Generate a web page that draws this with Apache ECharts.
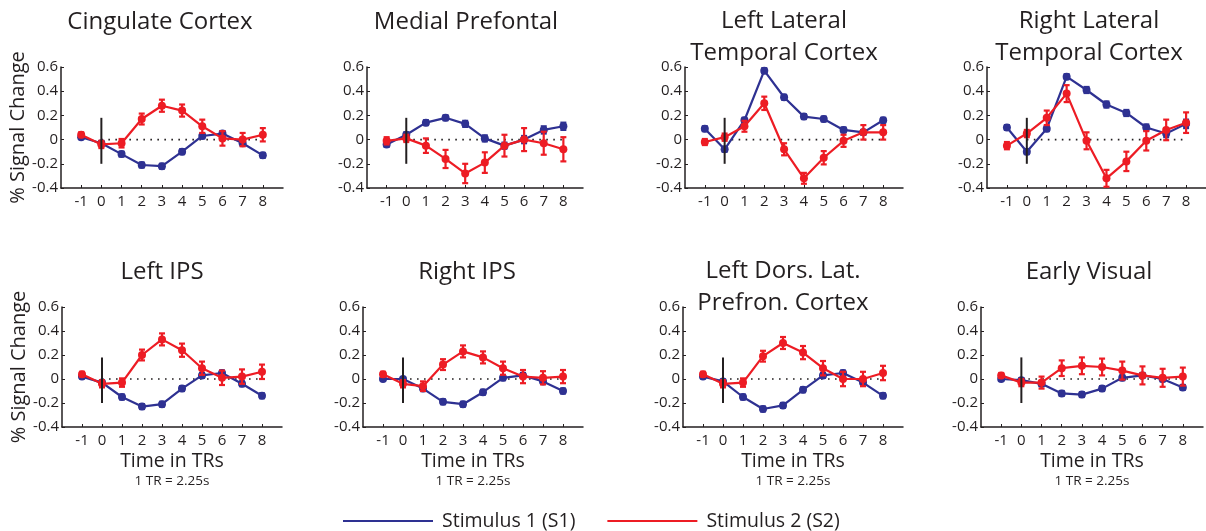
<!DOCTYPE html>
<html><head><meta charset="utf-8">
<script src="https://cdn.jsdelivr.net/npm/echarts@6/dist/echarts.min.js"></script>
<style>html,body{margin:0;padding:0;background:#fff}#c{width:1206px;height:531px}</style>
</head><body><div id="c"></div>
<script>
// ---------- data ----------
const timeTRs = [-1, 0, 1, 2, 3, 4, 5, 6, 7, 8];
const seriesNames = ['Stimulus 1 (S1)', 'Stimulus 2 (S2)'];
const panelTitles = [
  ['Cingulate Cortex'], ['Medial Prefontal'], ['Left Lateral', 'Temporal Cortex'], ['Right Lateral', 'Temporal Cortex'],
  ['Left IPS'], ['Right IPS'], ['Left Dors. Lat.', 'Prefron. Cortex'], ['Early Visual']
];
const yAxisTitle = '% Signal Change';
const xAxisTitle = 'Time in TRs';
const xAxisNote = '1 TR = 2.25s';
const stimOnsetX = 0;
const stimLineRange = [-0.2, 0.18];
const baselineRange = [0, 8];

const cingS1 = [0.02, -0.03, -0.12, -0.21, -0.22, -0.10, 0.03, 0.05, -0.03, -0.13];
const cingE1 = [0.015, 0.015, 0.02, 0.02, 0.02, 0.02, 0.02, 0.02, 0.02, 0.02];
const cingS2 = [0.04, -0.04, -0.03, 0.17, 0.28, 0.24, 0.11, 0.01, 0.00, 0.04];
const cingE2 = [0.02, 0.03, 0.035, 0.045, 0.05, 0.05, 0.055, 0.06, 0.055, 0.055];

const mpfcS1 = [-0.04, 0.04, 0.14, 0.18, 0.13, 0.01, -0.05, 0.00, 0.08, 0.11];
const mpfcE1 = [0.02, 0.02, 0.02, 0.02, 0.025, 0.025, 0.025, 0.03, 0.03, 0.03];
const mpfcS2 = [-0.01, 0.01, -0.05, -0.16, -0.28, -0.19, -0.05, 0.00, -0.03, -0.08];
const mpfcE2 = [0.03, 0.03, 0.06, 0.075, 0.08, 0.085, 0.09, 0.095, 0.095, 0.10];

const lltcS1 = [0.09, -0.08, 0.16, 0.57, 0.35, 0.19, 0.17, 0.08, 0.06, 0.16];
const lltcE1 = [0.02, 0.02, 0.02, 0.02, 0.02, 0.02, 0.02, 0.02, 0.02, 0.02];
const lltcS2 = [-0.02, 0.02, 0.11, 0.30, -0.08, -0.32, -0.15, -0.01, 0.06, 0.06];
const lltcE2 = [0.025, 0.03, 0.045, 0.055, 0.05, 0.045, 0.055, 0.05, 0.06, 0.06];

const rltcS1 = [0.10, -0.10, 0.09, 0.52, 0.41, 0.29, 0.22, 0.10, 0.05, 0.13];
const rltcE1 = [0.02, 0.02, 0.02, 0.02, 0.025, 0.025, 0.025, 0.025, 0.03, 0.035];
const rltcS2 = [-0.05, 0.05, 0.18, 0.38, -0.01, -0.32, -0.18, -0.01, 0.08, 0.14];
const rltcE2 = [0.03, 0.03, 0.06, 0.07, 0.07, 0.07, 0.08, 0.08, 0.085, 0.085];

const lipsS1 = [0.02, -0.03, -0.15, -0.23, -0.21, -0.08, 0.03, 0.05, -0.04, -0.14];
const lipsE1 = [0.015, 0.015, 0.02, 0.02, 0.02, 0.02, 0.02, 0.02, 0.02, 0.02];
const lipsS2 = [0.04, -0.04, -0.03, 0.20, 0.33, 0.24, 0.09, 0.01, 0.02, 0.06];
const lipsE2 = [0.02, 0.03, 0.035, 0.045, 0.05, 0.055, 0.055, 0.06, 0.06, 0.06];

const ripsS1 = [0.00, 0.00, -0.08, -0.19, -0.21, -0.11, 0.01, 0.03, -0.02, -0.10];
const ripsE1 = [0.015, 0.015, 0.02, 0.02, 0.02, 0.02, 0.02, 0.02, 0.02, 0.02];
const ripsS2 = [0.04, -0.04, -0.06, 0.12, 0.23, 0.18, 0.09, 0.02, 0.01, 0.02];
const ripsE2 = [0.02, 0.03, 0.04, 0.045, 0.05, 0.05, 0.055, 0.055, 0.055, 0.055];

const ldlpS1 = [0.02, -0.02, -0.15, -0.25, -0.22, -0.09, 0.03, 0.05, -0.03, -0.14];
const ldlpE1 = [0.015, 0.015, 0.02, 0.02, 0.02, 0.02, 0.02, 0.02, 0.02, 0.02];
const ldlpS2 = [0.04, -0.04, -0.03, 0.19, 0.30, 0.22, 0.09, 0.00, 0.00, 0.05];
const ldlpE2 = [0.02, 0.03, 0.035, 0.045, 0.05, 0.055, 0.06, 0.06, 0.06, 0.06];

const evisS1 = [0.00, -0.01, -0.04, -0.12, -0.13, -0.08, 0.01, 0.03, 0.00, -0.07];
const evisE1 = [0.015, 0.015, 0.02, 0.02, 0.02, 0.02, 0.02, 0.02, 0.02, 0.02];
const evisS2 = [0.03, -0.03, -0.03, 0.09, 0.11, 0.10, 0.07, 0.03, 0.01, 0.02];
const evisE2 = [0.02, 0.03, 0.05, 0.065, 0.07, 0.07, 0.075, 0.075, 0.075, 0.075];

const panelS1 = [cingS1, mpfcS1, lltcS1, rltcS1, lipsS1, ripsS1, ldlpS1, evisS1];
const panelE1 = [cingE1, mpfcE1, lltcE1, rltcE1, lipsE1, ripsE1, ldlpE1, evisE1];
const panelS2 = [cingS2, mpfcS2, lltcS2, rltcS2, lipsS2, ripsS2, ldlpS2, evisS2];
const panelE2 = [cingE2, mpfcE2, lltcE2, rltcE2, lipsE2, ripsE2, ldlpE2, evisE2];

// ---------- layout / style ----------
const FONT = '"Open Sans", "DejaVu Sans", sans-serif';
const INK = '#231f20';
const BLUE = '#2e3192';
const RED = '#ed1c24';
const gridBoxes = [
  [61, 67, 222, 121], [367, 67, 216, 121], [685, 67, 218, 121], [987, 67, 219, 121],
  [62, 307, 220, 120], [363, 307, 220, 120], [683, 307, 220, 120], [981, 307, 222, 120]
];
const titleCenters = [[160, 22], [466, 22], [784, 21], [1089, 21], [162, 272], [467, 272], [783, 271], [1089, 272]];

function errRender(color) {
  return function (params, api) {
    const x = api.value(0), y = api.value(1), e = api.value(2);
    const a = api.coord([x, y + e]), b = api.coord([x, y - e]);
    const c = 3;
    const st = { stroke: color, lineWidth: 2.2 };
    return { type: 'group', children: [
      { type: 'line', shape: { x1: a[0], y1: a[1], x2: b[0], y2: b[1] }, style: st },
      { type: 'line', shape: { x1: a[0] - c, y1: a[1], x2: a[0] + c, y2: a[1] }, style: st },
      { type: 'line', shape: { x1: b[0] - c, y1: b[1], x2: b[0] + c, y2: b[1] }, style: st }
    ]};
  };
}

const grids = [], xAxes = [], yAxes = [], series = [], graphics = [];
gridBoxes.forEach((g, i) => {
  grids.push({ left: g[0], top: g[1], width: g[2], height: g[3], containLabel: false });
  const bottomRow = i >= 4;
  xAxes.push({
    type: 'value', gridIndex: i, min: -2, max: 9, interval: 1,
    axisLine: { show: true, onZero: false, lineStyle: { color: INK, width: 1.5 } },
    axisTick: { show: true, inside: true, length: 3, customValues: timeTRs, lineStyle: { color: INK } },
    axisLabel: { customValues: timeTRs, color: INK, fontSize: 15, fontFamily: FONT, margin: 6 },
    splitLine: { show: false },
    name: bottomRow ? '{a|' + xAxisTitle + '}\n{b|' + xAxisNote + '}' : '',
    nameLocation: 'middle', nameGap: 22,
    nameTextStyle: { color: INK, fontFamily: FONT, align: 'center', rich: {
      a: { fontSize: 19.5, lineHeight: 24, color: INK, fontFamily: FONT, align: 'center' },
      b: { fontSize: 13.5, lineHeight: 16, color: INK, fontFamily: FONT, align: 'center' } } }
  });
  yAxes.push({
    type: 'value', gridIndex: i, min: -0.4, max: 0.6, interval: 0.2,
    axisLine: { show: true, onZero: false, lineStyle: { color: INK, width: 1.5 } },
    axisTick: { show: true, inside: true, length: 3, lineStyle: { color: INK } },
    axisLabel: { color: INK, fontSize: 15, fontFamily: FONT, margin: 3,
      formatter: v => { const r = Math.round(v * 10) / 10; return r === 0 ? '0' : r.toFixed(1); } },
    splitLine: { show: false },
    name: (i % 4 === 0) ? yAxisTitle : '',
    nameLocation: 'middle', nameGap: 30,
    nameTextStyle: { color: INK, fontSize: 20, fontFamily: FONT }
  });

  series.push({
    type: 'line', xAxisIndex: i, yAxisIndex: i, silent: true, symbol: 'none', z: 1,
    data: baselineRange.map(x => [x, 0]),
    lineStyle: { color: INK, width: 1.6, type: [1.6, 5.4] }
  });
  const add = (name, color, ys, es, z) => {
    series.push({
      name, type: 'line', xAxisIndex: i, yAxisIndex: i, z,
      data: timeTRs.map((x, k) => [x, ys[k]]),
      symbol: 'circle', symbolSize: 8, itemStyle: { color }, lineStyle: { color, width: 2.2 }
    });
    series.push({
      name, type: 'custom', xAxisIndex: i, yAxisIndex: i, z, itemStyle: { color },
      encode: { x: 0, y: 1 },
      data: timeTRs.map((x, k) => [x, ys[k], es[k]]),
      renderItem: errRender(color)
    });
  };
  add(seriesNames[0], BLUE, panelS1[i], panelE1[i], 3);
  add(seriesNames[1], RED, panelS2[i], panelE2[i], 4);
  series.push({
    type: 'line', xAxisIndex: i, yAxisIndex: i, silent: true, symbol: 'none', z: 5,
    data: stimLineRange.map(y => [stimOnsetX, y]),
    lineStyle: { color: INK, width: 2 }
  });

  panelTitles[i].forEach((t, j) => {
    graphics.push({
      type: 'text', x: titleCenters[i][0], y: titleCenters[i][1] + j * 32,
      style: { text: t, fill: INK, font: '24px ' + FONT,
        align: 'center', verticalAlign: 'middle', textAlign: 'center', textVerticalAlign: 'middle' }
    });
  });
});

const chart = echarts.init(document.getElementById('c'), null, { renderer: 'canvas' });
chart.setOption({
  animation: false,
  backgroundColor: '#ffffff',
  grid: grids, xAxis: xAxes, yAxis: yAxes, series,
  graphic: graphics,
  legend: {
    data: seriesNames, left: 338, top: 506, icon: 'rect', itemWidth: 90, itemHeight: 2, itemGap: 32,
    textStyle: { color: INK, fontSize: 19.5, fontFamily: FONT, padding: [0, 0, 0, 4] }
  }
});
</script></body></html>
